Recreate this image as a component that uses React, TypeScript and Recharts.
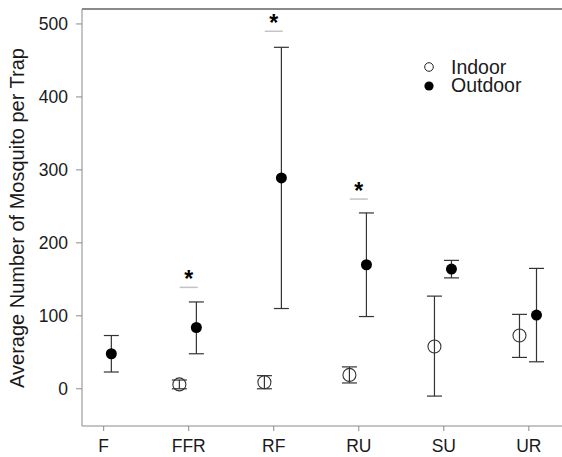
import React from 'react';
import { ComposedChart, Scatter, XAxis, YAxis, ErrorBar, ReferenceLine } from 'recharts';

const categories = ['F', 'FFR', 'RF', 'RU', 'SU', 'UR'];
const indoorMean: (number | null)[] = [null, 6, 9, 19, 58, 73];
const indoorLow: (number | null)[] = [null, 0, 0, 8, -10, 43];
const indoorHigh: (number | null)[] = [null, 12, 18, 30, 127, 102];
const outdoorMean = [48, 84, 289, 170, 164, 101];
const outdoorLow = [23, 48, 110, 99, 152, 37];
const outdoorHigh = [73, 119, 468, 241, 176, 165];
const sigLevel: (number | null)[] = [null, 139, 490, 260, null, null];
const yTicks = [0, 100, 200, 300, 400, 500];
const seriesNames = ['Indoor', 'Outdoor'];

const FONT = '"Liberation Sans", Arial, sans-serif';
const AXIS = '#8a8a8a';
const INK = '#1a1a1a';

const indoorData = categories
  .map((c, i) => ({ x: i + 1 - 0.11, y: indoorMean[i], err: indoorMean[i] == null ? [0, 0] : [(indoorMean[i] as number) - (indoorLow[i] as number), (indoorHigh[i] as number) - (indoorMean[i] as number)] }))
  .filter((d) => d.y != null);
const outdoorData = categories.map((c, i) => ({ x: i + 1 + 0.09, y: outdoorMean[i], err: [outdoorMean[i] - outdoorLow[i], outdoorHigh[i] - outdoorMean[i]] }));
const sigData = categories.map((c, i) => ({ x: i + 1, y: sigLevel[i] })).filter((d) => d.y != null);

const OpenDot = (p: any) => <circle cx={p.cx} cy={p.cy} r={6.5} fill="none" stroke="#333" strokeWidth={1.1} />;
const FilledDot = (p: any) => <circle cx={p.cx} cy={p.cy} r={5.5} fill="#000" />;
const SigMark = (p: any) => (
  <g>
    <line x1={p.cx - 9} x2={p.cx + 9} y1={p.cy} y2={p.cy} stroke="#c4c4c4" strokeWidth={1.5} />
    <text x={p.cx} y={p.cy} textAnchor="middle" fontSize={23} fontWeight="bold" fontFamily={FONT} fill="#000">*</text>
  </g>
);

const LegendBox = () => (
  <svg width={130} height={45} style={{ position: 'absolute', left: 420, top: 55 }}>
    <circle cx={9} cy={12} r={4.3} fill="none" stroke="#222" strokeWidth={1} />
    <text x={31} y={19.3} fontSize={19.5} fontFamily={FONT} fill={INK}>{seriesNames[0]}</text>
    <circle cx={9} cy={31} r={4.6} fill="#000" />
    <text x={31} y={37.3} fontSize={19.5} fontFamily={FONT} fill={INK}>{seriesNames[1]}</text>
  </svg>
);

export default function App() {
  return (
    <div style={{ position: 'absolute', left: 0, top: 0, width: 562, height: 457, background: '#fff' }}>
      <ComposedChart width={562} height={457} margin={{ top: 9, right: 0, bottom: 0, left: 0 }}>
        <XAxis
          type="number"
          dataKey="x"
          domain={[0.745, 6.39]}
          ticks={[1, 2, 3, 4, 5, 6]}
          tickFormatter={(v: number) => categories[Math.round(v) - 1]}
          height={31}
          stroke={AXIS}
          tickSize={5}
          tickMargin={9}
          tick={{ fill: INK, fontSize: 17.5, fontFamily: FONT }}
          allowDataOverflow
        />
        <YAxis
          type="number"
          dataKey="y"
          domain={[-51, 520.5]}
          ticks={yTicks}
          width={82}
          stroke={AXIS}
          tickSize={6}
          tickMargin={8}
          tick={{ fill: INK, fontSize: 17.5, fontFamily: FONT }}
          allowDataOverflow
          label={{
            content: () => (
              <text x={24} y={218} transform="rotate(-90 24 218)" textAnchor="middle" fontSize={20} fontFamily={FONT} fill={INK}>
                Average Number of Mosquito per Trap
              </text>
            ),
          }}
        />
        <ReferenceLine y={520.5} stroke={AXIS} strokeWidth={2} ifOverflow="visible" />
        <Scatter name={seriesNames[0]} data={indoorData} shape={<OpenDot />} isAnimationActive={false}>
          <ErrorBar dataKey="err" direction="y" width={7.5} stroke="#333" strokeWidth={1.2} isAnimationActive={false} />
        </Scatter>
        <Scatter name={seriesNames[1]} data={outdoorData} shape={<FilledDot />} isAnimationActive={false}>
          <ErrorBar dataKey="err" direction="y" width={7.5} stroke="#333" strokeWidth={1.2} isAnimationActive={false} />
        </Scatter>
        <Scatter name="sig" data={sigData} shape={<SigMark />} isAnimationActive={false} legendType="none" />
      </ComposedChart>
      <LegendBox />
    </div>
  );
}
